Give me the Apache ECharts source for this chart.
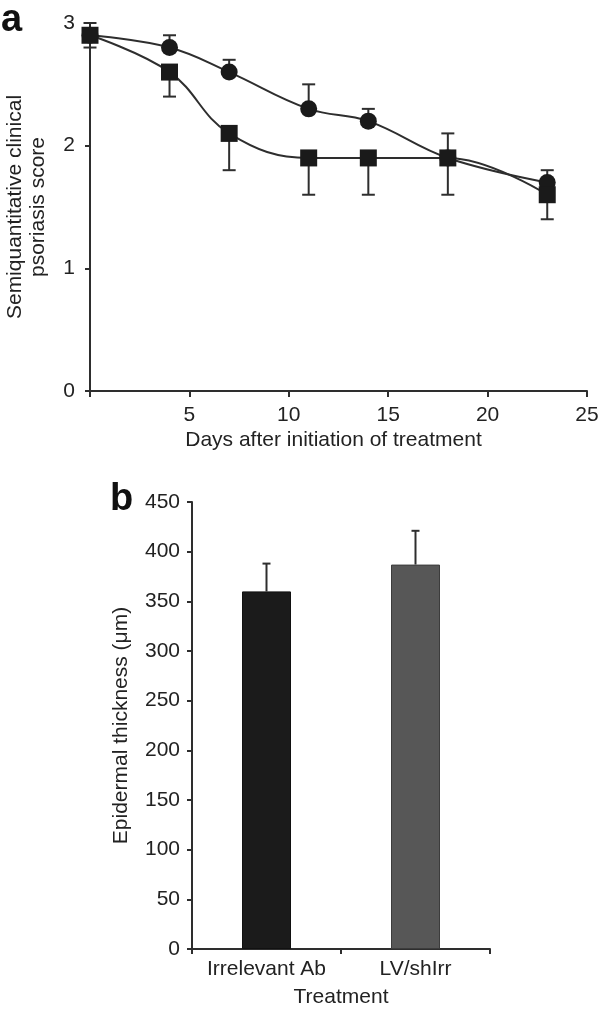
<!DOCTYPE html>
<html>
<head>
<meta charset="utf-8">
<script src="https://cdn.jsdelivr.net/npm/echarts@6/dist/echarts.min.js"></script>
<style>
html,body{margin:0;padding:0;background:#fff;}
#chart{width:600px;height:1012px;}
</style>
</head>
<body>
<div id="chart"></div>
<script>
// ---- Panel a data ----
var days = [0, 4, 7, 11, 14, 18, 23];
var circleScore = [2.9, 2.8, 2.6, 2.3, 2.2, 1.9, 1.7];
var circleErrUp = [0.1, 0.1, 0.1, 0.2, 0.1, 0.2, 0.1];
var squareScore = [2.9, 2.6, 2.1, 1.9, 1.9, 1.9, 1.6];
var squareErrDown = [0.1, 0.2, 0.3, 0.3, 0.3, 0.3, 0.2];
var xTicksA = [0, 5, 10, 15, 20, 25];
var yTicksA = [0, 1, 2, 3];

// ---- Panel b data ----
var treatments = ['Irrelevant Ab', 'LV/shIrr'];
var thickness = [360, 387];
var thicknessErr = [28, 34];
var yTicksB = [0, 50, 100, 150, 200, 250, 300, 350, 400, 450];

var FONT = '"Liberation Sans", Arial, Helvetica, sans-serif';
var TXT = '#222';
var AX = '#2e2e2e';

var chart = echarts.init(document.getElementById('chart'), null, {renderer: 'canvas'});

function errBarItem(x, y1, y2, api, cap) {
  var p1 = api.coord([x, y1]);
  var p2 = api.coord([x, y2]);
  var st = {stroke: AX, lineWidth: 2};
  return {
    type: 'group',
    children: [
      {type: 'line', shape: {x1: p1[0], y1: p1[1], x2: p2[0], y2: p2[1]}, style: st},
      {type: 'line', shape: {x1: p2[0] - cap, y1: p2[1], x2: p2[0] + cap, y2: p2[1]}, style: st}
    ]
  };
}

var circleErrData = days.map(function (d, i) { return [d, circleScore[i], circleScore[i] + circleErrUp[i]]; });
var squareErrData = days.map(function (d, i) { return [d, squareScore[i], squareScore[i] - squareErrDown[i]]; });
var barErrData = treatments.map(function (t, i) { return [i, thickness[i], thickness[i] + thicknessErr[i]]; });

var axisLineStyle = {lineStyle: {color: AX, width: 2}};
var labelStyle = {color: TXT, fontSize: 21, fontFamily: FONT};

var option = {
  backgroundColor: '#fff',
  animation: false,
  grid: [
    {left: 90, right: 13, top: 23, height: 368, containLabel: false, outerBoundsMode: 'none'},
    {left: 192, right: 110, top: 502, height: 447, containLabel: false, outerBoundsMode: 'none'}
  ],
  xAxis: [
    {
      gridIndex: 0, type: 'value', min: xTicksA[0], max: xTicksA[xTicksA.length - 1], interval: 5,
      axisLine: axisLineStyle,
      axisTick: {show: true, length: 6, lineStyle: {color: AX, width: 2}},
      splitLine: {show: false},
      axisLabel: Object.assign({margin: 14, formatter: function (v) { return v === 0 ? '' : String(v); }}, labelStyle),
      name: 'Days after initiation of treatment', nameLocation: 'middle', nameGap: 39,
      nameTextStyle: {color: TXT, fontSize: 21, fontFamily: FONT, padding: [0, 10, 0, 0]}
    },
    {
      gridIndex: 1, type: 'category', data: treatments,
      axisLine: axisLineStyle,
      axisTick: {show: true, length: 5, lineStyle: {color: AX, width: 2}},
      axisLabel: Object.assign({margin: 10, interval: 0}, labelStyle),
      name: 'Treatment', nameLocation: 'middle', nameGap: 38,
      nameTextStyle: {color: TXT, fontSize: 21, fontFamily: FONT}
    }
  ],
  yAxis: [
    {
      gridIndex: 0, type: 'value', min: yTicksA[0], max: yTicksA[yTicksA.length - 1], interval: 1,
      axisLine: {show: true, lineStyle: {color: AX, width: 2}},
      axisTick: {show: true, length: 5, lineStyle: {color: AX, width: 2}},
      splitLine: {show: false},
      axisLabel: Object.assign({margin: 15}, labelStyle),
      name: 'Semiquantitative clinical\npsoriasis score', nameLocation: 'middle', nameGap: 40,
      nameTextStyle: {color: TXT, fontSize: 21, fontFamily: FONT, lineHeight: 23}
    },
    {
      gridIndex: 1, type: 'value', min: yTicksB[0], max: yTicksB[yTicksB.length - 1], interval: 50,
      axisLine: {show: true, lineStyle: {color: AX, width: 2}},
      axisTick: {show: true, length: 5, lineStyle: {color: AX, width: 2}},
      splitLine: {show: false},
      axisLabel: Object.assign({margin: 12}, labelStyle),
      name: 'Epidermal thickness (μm)', nameLocation: 'middle', nameGap: 60,
      nameTextStyle: {color: TXT, fontSize: 21, fontFamily: FONT}
    }
  ],
  series: [
    {
      type: 'custom', xAxisIndex: 0, yAxisIndex: 0, z: 1,
      data: circleErrData,
      renderItem: function (params, api) { return errBarItem(api.value(0), api.value(1), api.value(2), api, 6.5); }
    },
    {
      type: 'custom', xAxisIndex: 0, yAxisIndex: 0, z: 1,
      data: squareErrData,
      renderItem: function (params, api) { return errBarItem(api.value(0), api.value(1), api.value(2), api, 6.5); }
    },
    {
      type: 'line', xAxisIndex: 0, yAxisIndex: 0, z: 3,
      data: days.map(function (d, i) { return [d, circleScore[i]]; }),
      smooth: 0.4, symbol: 'circle', symbolSize: 17,
      itemStyle: {color: '#1a1a1a'},
      lineStyle: {color: AX, width: 2}
    },
    {
      type: 'line', xAxisIndex: 0, yAxisIndex: 0, z: 4,
      data: days.map(function (d, i) { return [d, squareScore[i]]; }),
      smooth: 0.4, symbol: 'rect', symbolSize: 17,
      itemStyle: {color: '#1a1a1a'},
      lineStyle: {color: AX, width: 2}
    },
    {
      type: 'custom', xAxisIndex: 1, yAxisIndex: 1, z: 1,
      data: barErrData,
      renderItem: function (params, api) { return errBarItem(api.value(0), api.value(1), api.value(2), api, 4); }
    },
    {
      type: 'bar', xAxisIndex: 1, yAxisIndex: 1, z: 2,
      barWidth: 49,
      data: [
        {value: thickness[0], itemStyle: {color: '#1b1b1b', borderColor: '#111', borderWidth: 1}},
        {value: thickness[1], itemStyle: {color: '#575757', borderColor: '#3c3c3c', borderWidth: 1}}
      ]
    }
  ],
  graphic: [
    {type: 'text', left: 1, top: 2, style: {text: 'a', font: 'bold 38px ' + FONT, fill: '#111'}},
    {type: 'text', left: 110, top: 481, style: {text: 'b', font: 'bold 38px ' + FONT, fill: '#111'}}
  ]
};
chart.setOption(option);
</script>
</body>
</html>
